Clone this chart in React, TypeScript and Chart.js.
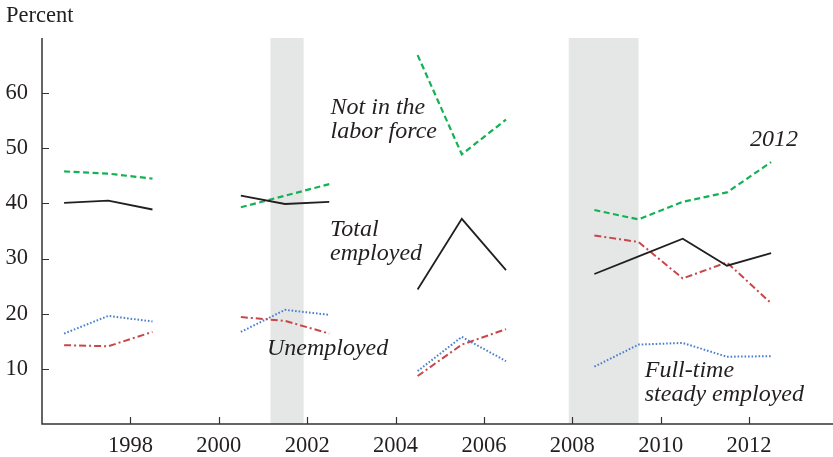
import React, { useEffect, useRef } from "react";
import { Chart, registerables } from "chart.js";

Chart.register(...registerables);

const years = [1996.5, 1997.5, 1998.5, 1999.5, 2000.5, 2001.5, 2002.5, 2003.5, 2004.5, 2005.5, 2006.5, 2007.5, 2008.5, 2009.5, 2010.5, 2011.5, 2012.5];
const totalEmployed = [40.1, 40.5, 38.9, null, 41.4, 39.9, 40.3, null, 24.4, 37.2, 27.9, null, 27.2, 30.4, 33.6, 28.7, 31.0];
const notInLaborForce = [45.8, 45.4, 44.5, null, 39.3, 41.4, 43.5, null, 66.9, 48.9, 55.2, null, 38.8, 37.1, 40.3, 42.0, 47.5];
const unemployed = [14.3, 14.1, 16.7, null, 19.4, 18.7, 16.4, null, 8.7, 14.4, 17.2, null, 34.2, 33.0, 26.4, 29.3, 21.9];
const fullTimeSteady = [16.4, 19.6, 18.6, null, 16.7, 20.7, 19.8, null, 9.6, 15.8, 11.4, null, 10.4, 14.4, 14.7, 12.2, 12.3];

const xTicks = [1998, 2000, 2002, 2004, 2006, 2008, 2010, 2012];
const yTicks = [10, 20, 30, 40, 50, 60];
const recessions: [number, number][] = [[2001.17, 2001.92], [2007.92, 2009.5]];

const annotations: { lines: string[]; x: number; y: number }[] = [
  { lines: ["Not in the", "labor force"], x: 2002.53, y: 56.25 },
  { lines: ["Total", "employed"], x: 2002.52, y: 34.1 },
  { lines: ["Unemployed"], x: 2001.09, y: 12.6 },
  { lines: ["2012"], x: 2012.02, y: 50.5 },
  { lines: ["Full-time", "steady employed"], x: 2009.64, y: 8.55 },
];

const toPts = (vals: (number | null)[]) => years.map((x, i) => ({ x, y: vals[i] }));

const FONT = '"Liberation Serif", "Times New Roman", serif';

export default function App() {
  const ref = useRef<HTMLCanvasElement | null>(null);
  useEffect(() => {
    document.body.style.margin = "0";
    document.body.style.overflow = "hidden";
    const canvas = ref.current!;
    const decor = {
      id: "decor",
      beforeDatasetsDraw(chart: any) {
        const { ctx, chartArea, scales } = chart;
        const xs = scales.x;
        ctx.save();
        ctx.fillStyle = "#e5e7e6";
        for (const [a, b] of recessions) {
          const x1 = xs.getPixelForValue(a);
          const x2 = xs.getPixelForValue(b);
          ctx.fillRect(x1, chartArea.top, x2 - x1, chartArea.bottom - chartArea.top);
        }
        ctx.restore();
      },
      afterDraw(chart: any) {
        const { ctx, chartArea, scales } = chart;
        const xs = scales.x;
        const ys = scales.y;
        ctx.save();
        ctx.strokeStyle = "#333";
        ctx.lineWidth = 1.5;
        ctx.beginPath();
        ctx.moveTo(chartArea.left, chartArea.top);
        ctx.lineTo(chartArea.left, chartArea.bottom);
        ctx.lineTo(chartArea.right, chartArea.bottom);
        ctx.stroke();
        ctx.lineWidth = 1.2;
        ctx.beginPath();
        for (const t of yTicks) {
          const y = Math.round(ys.getPixelForValue(t)) + 0.5;
          ctx.moveTo(chartArea.left, y);
          ctx.lineTo(chartArea.left + 7, y);
        }
        for (const t of xTicks) {
          const x = Math.round(xs.getPixelForValue(t)) + 0.5;
          ctx.moveTo(x, chartArea.bottom);
          ctx.lineTo(x, chartArea.bottom - 7);
        }
        ctx.stroke();
        ctx.fillStyle = "#231f20";
        ctx.font = `22.5px ${FONT}`;
        ctx.textBaseline = "alphabetic";
        ctx.textAlign = "left";
        ctx.fillText("Percent", 6, 22);
        ctx.font = `italic 24px ${FONT}`;
        for (const a of annotations) {
          const px = xs.getPixelForValue(a.x);
          const py = ys.getPixelForValue(a.y);
          a.lines.forEach((l, i) => ctx.fillText(l, px, py + i * 24.5));
        }
        ctx.restore();
      },
    };
    const chart = new Chart(canvas, {
      type: "line",
      data: {
        datasets: [
          { label: "Total employed", data: toPts(totalEmployed) as any, borderColor: "#231f20", borderWidth: 1.8, pointRadius: 0, spanGaps: false },
          { label: "Not in the labor force", data: toPts(notInLaborForce) as any, borderColor: "#14b155", borderWidth: 2.2, borderDash: [6, 3.5], pointRadius: 0, spanGaps: false },
          { label: "Unemployed", data: toPts(unemployed) as any, borderColor: "#c8474a", borderWidth: 2, borderDash: [7, 3, 2, 3], pointRadius: 0, spanGaps: false },
          { label: "Full-time steady employed", data: toPts(fullTimeSteady) as any, borderColor: "#4a7fcc", borderWidth: 2, borderDash: [1.6, 1.9], pointRadius: 0, spanGaps: false },
        ],
      },
      options: {
        animation: false,
        responsive: false,
        maintainAspectRatio: false,
        devicePixelRatio: 1,
        layout: { padding: { top: 38, right: 0, left: 0, bottom: 0 } },
        plugins: { legend: { display: false }, tooltip: { enabled: false }, title: { display: false } },
        scales: {
          x: {
            type: "linear",
            min: 1996.0,
            max: 2013.9,
            afterBuildTicks: (s: any) => { s.ticks = xTicks.map((v) => ({ value: v })); },
            afterFit: (s: any) => { s.height = 33; },
            grid: { display: false, drawTicks: false },
            border: { display: false },
            ticks: { color: "#231f20", font: { family: FONT, size: 22.5 }, padding: 9, autoSkip: false, maxRotation: 0, callback: (v: any) => String(v) },
          },
          y: {
            type: "linear",
            min: 0,
            max: 70,
            afterBuildTicks: (s: any) => { s.ticks = yTicks.map((v) => ({ value: v })); },
            afterFit: (s: any) => { s.width = 42; },
            grid: { display: false, drawTicks: false },
            border: { display: false },
            ticks: { color: "#231f20", font: { family: FONT, size: 22.5 }, padding: 14, callback: (v: any) => String(v) },
          },
        },
      },
      plugins: [decor],
    });
    return () => chart.destroy();
  }, []);
  return (
    <div style={{ position: "fixed", left: 0, top: 0, width: 833, height: 457, overflow: "hidden", background: "#fff" }}>
      <canvas ref={ref} width={833} height={457} style={{ width: 833, height: 457, display: "block" }} />
    </div>
  );
}
